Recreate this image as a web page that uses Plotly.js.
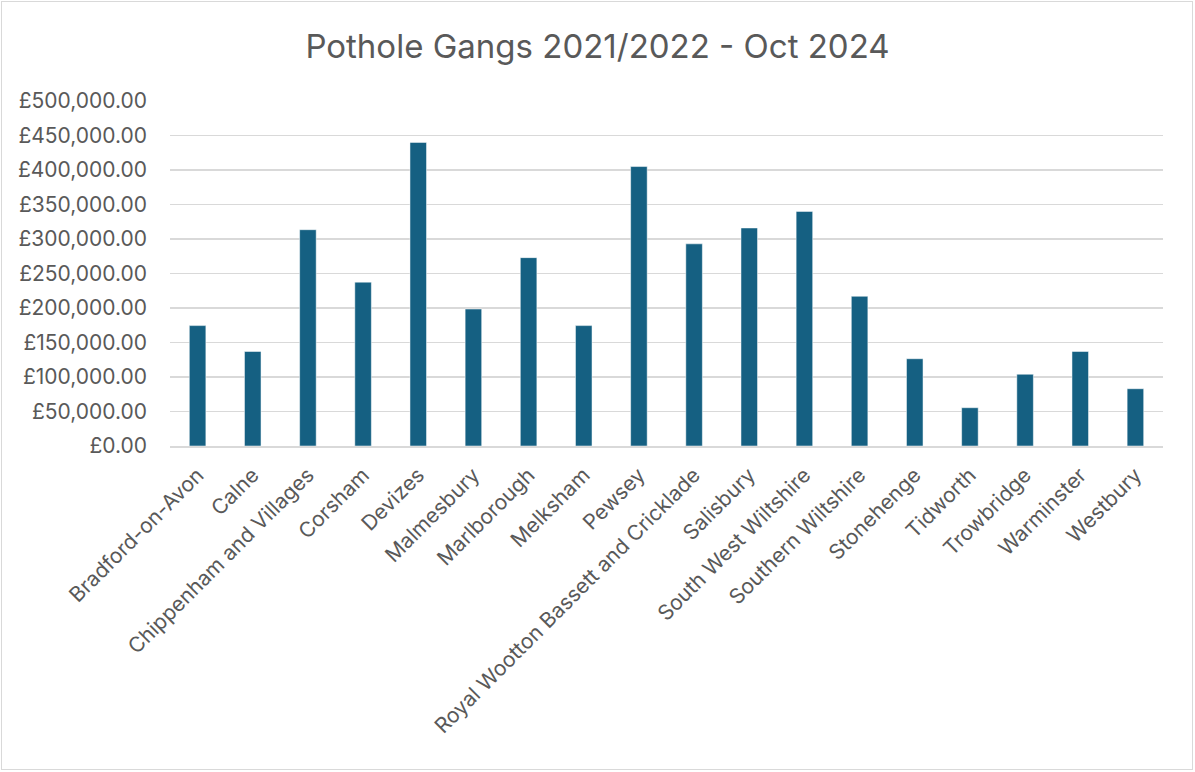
<!DOCTYPE html>
<html>
<head>
<meta charset="utf-8">
<script src="https://cdn.plot.ly/plotly-3.0.1.min.js"></script>
<style>
html,body{margin:0;padding:0;background:#fff;}
#wrap{position:relative;width:1195px;height:772px;}
#chart{position:absolute;left:0;top:0;width:1195px;height:772px;}
#border{position:absolute;left:1px;top:1px;width:1190px;height:767px;border:1px solid #d9d9d9;pointer-events:none;}
</style>
</head>
<body>
<div id="wrap"><div id="chart"></div><div id="border"></div></div>
<script>
const categories = ["Bradford-on-Avon","Calne","Chippenham and Villages","Corsham","Devizes","Malmesbury","Marlborough","Melksham","Pewsey","Royal Wootton Bassett and Cricklade","Salisbury","South West Wiltshire","Southern Wiltshire","Stonehenge","Tidworth","Trowbridge","Warminster","Westbury"];
const values = [174500,137000,313500,237500,440000,198500,273000,174500,405000,293000,316000,340000,217000,126500,55500,104000,137000,83000];
const yTickValues = [0,50000,100000,150000,200000,250000,300000,350000,400000,450000,500000];
const yTickLabels = yTickValues.map(v => '\u00a3' + v.toLocaleString('en-GB', {minimumFractionDigits: 2, maximumFractionDigits: 2}));

const textColor = '#595959';
const fontFamily = 'Inter, Roboto, "Open Sans", sans-serif';

Plotly.newPlot('chart', [{
  type: 'bar',
  x: categories,
  y: values,
  marker: {color: '#156082', line: {color: '#ffffff', width: 0.5}},
  hoverinfo: 'x+y'
}], {
  width: 1195,
  height: 772,
  paper_bgcolor: '#ffffff',
  plot_bgcolor: '#ffffff',
  margin: {l: 170, r: 32, t: 101, b: 326, pad: 0},
  bargap: 0.7,
  title: {text: 'Pothole Gangs 2021/2022 - Oct 2024', x: 0.5, xanchor: 'center', y: 0.94, yanchor: 'middle', font: {family: fontFamily, size: 33, color: textColor}},
  showlegend: false,
  xaxis: {
    type: 'category',
    tickangle: -45,
    tickfont: {family: fontFamily, size: 21, color: textColor},
    showgrid: false,
    showline: true,
    linecolor: '#d9d9d9',
    linewidth: 1.5,
    ticks: '',
    ticklabelstandoff: 7,
    fixedrange: true
  },
  yaxis: {
    range: [0, 500000],
    tickvals: yTickValues,
    ticktext: yTickLabels,
    tickfont: {family: fontFamily, size: 21, color: textColor},
    showgrid: true,
    gridcolor: '#d9d9d9',
    gridwidth: 1.5,
    zeroline: false,
    showline: false,
    ticks: '',
    ticklabelstandoff: 22,
    fixedrange: true
  }
}, {displayModeBar: false, staticPlot: true});
</script>
</body>
</html>
